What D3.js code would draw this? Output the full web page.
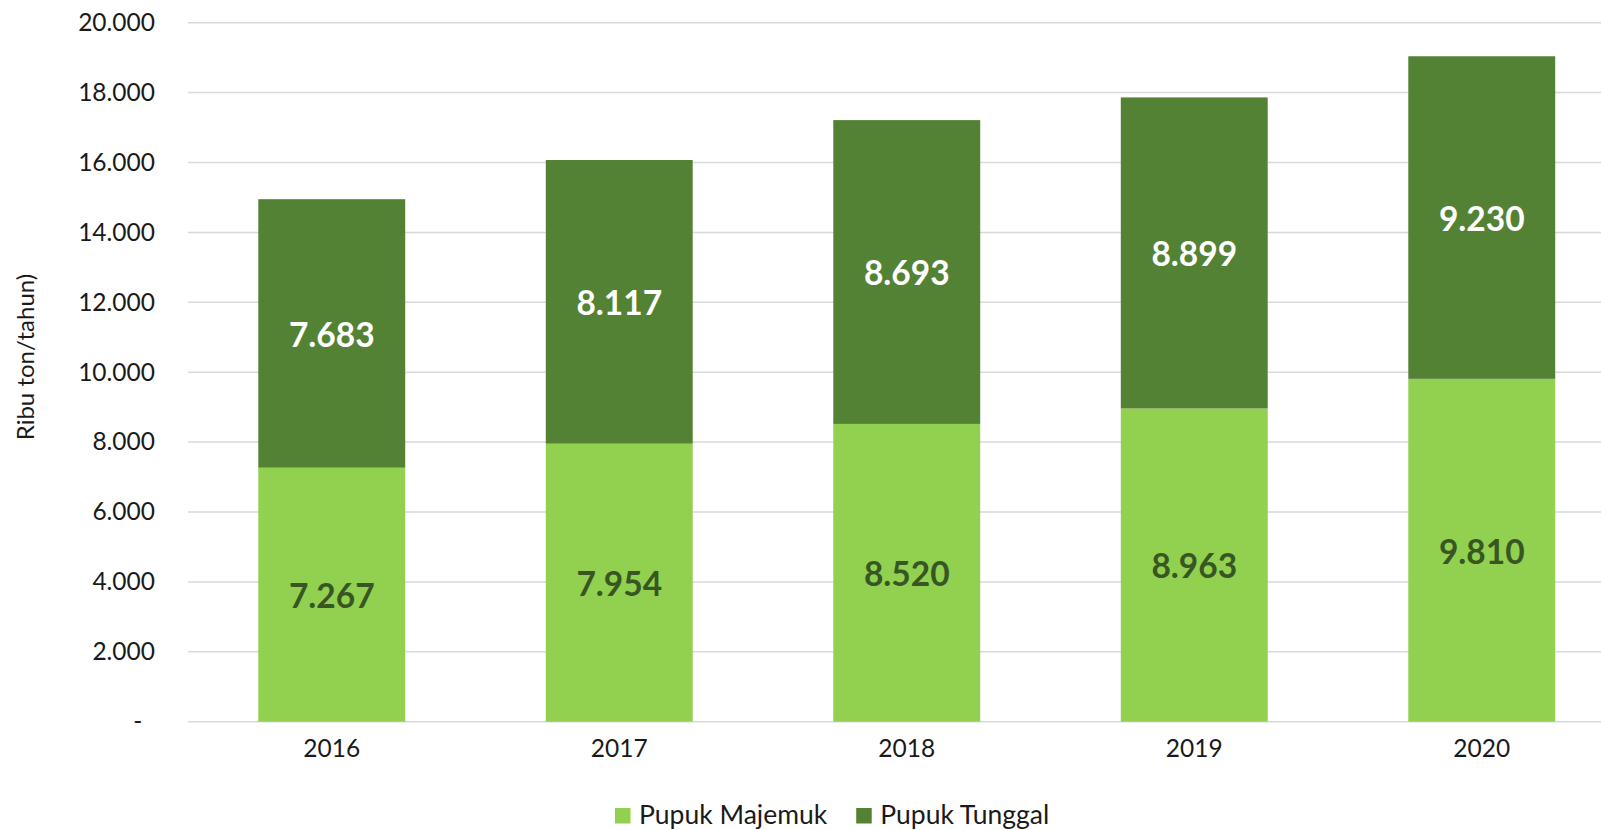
<!DOCTYPE html>
<html>
<head>
<meta charset="utf-8">
<script src="https://cdn.jsdelivr.net/npm/d3@7"></script>
<style>
  body { margin: 0; background: #fff; }
  text { font-family: Lato, "Open Sans", sans-serif; }
</style>
</head>
<body>
<div id="chart"></div>
<script>
// data
const years = ["2016", "2017", "2018", "2019", "2020"];
const majemuk = [7267, 7954, 8520, 8963, 9810];
const tunggal = [7683, 8117, 8693, 8899, 9230];
const seriesNames = ["Pupuk Majemuk", "Pupuk Tunggal"];
const yTicks = [0, 2000, 4000, 6000, 8000, 10000, 12000, 14000, 16000, 18000, 20000];

const width = 1601;
const height = 830;
const colors = ["#92D050", "#548235"];
const labelColors = ["#375623", "#ffffff"];

const svg = d3.select("#chart")
  .append("svg")
    .attr("width", width)
    .attr("height", height);

// plot area runs past the right edge, like the reference crop
const x = d3.scaleBand()
  .domain(years)
  .range([188, 1625.5])
  .paddingInner(0.489)
  .paddingOuter(0.2445);

const y = d3.scaleLinear()
  .domain([0, 20000])
  .range([721.7, 22.7]);

const fmt = v => v === 0 ? "-\u00A0\u00A0" : d3.format(",")(v).replace(/,/g, ".");

// gridlines
svg.append("g")
  .selectAll("line")
  .data(yTicks)
  .join("line")
    .attr("x1", 188)
    .attr("x2", 1625.5)
    .attr("y1", d => y(d))
    .attr("y2", d => y(d))
    .attr("stroke", "#D9D9D9")
    .attr("stroke-width", 1.5);

// y axis labels
const yAxis = svg.append("g")
  .attr("transform", "translate(155,0)")
  .call(d3.axisLeft(y).tickValues(yTicks).tickFormat(fmt).tickSize(0).tickPadding(0));
yAxis.select(".domain").remove();
yAxis.selectAll("text")
  .attr("font-size", 24.5)
  .attr("fill", "#1a1a1a")
  .style("white-space", "pre")
  .style("font-family", "Lato, 'Open Sans', sans-serif");

// x axis labels
const xAxis = svg.append("g")
  .attr("transform", "translate(0,740)")
  .call(d3.axisBottom(x).tickSize(0).tickPadding(0));
xAxis.select(".domain").remove();
xAxis.selectAll("text")
  .attr("font-size", 24.5)
  .attr("fill", "#1a1a1a")
  .style("font-family", "Lato, 'Open Sans', sans-serif");

// stack the two series
const rows = years.map((yr, i) => ({ year: yr, majemuk: majemuk[i], tunggal: tunggal[i] }));
const stack = d3.stack().keys(["majemuk", "tunggal"])(rows);

const layer = svg.append("g")
  .selectAll("g")
  .data(stack)
  .join("g")
    .attr("fill", (d, i) => colors[i]);

layer.selectAll("rect")
  .data(d => d)
  .join("rect")
    .attr("x", d => x(d.data.year))
    .attr("width", x.bandwidth())
    .attr("y", d => y(d[1]))
    .attr("height", d => y(d[0]) - y(d[1]));

// value labels in the middle of each segment
stack.forEach((s, i) => {
  svg.append("g")
    .selectAll("text")
    .data(s)
    .join("text")
      .attr("x", d => x(d.data.year) + x.bandwidth() / 2)
      .attr("y", d => (y(d[0]) + y(d[1])) / 2)
      .attr("dy", "0.4em")
      .attr("text-anchor", "middle")
      .attr("font-size", 33.5)
      .attr("font-weight", "bold")
      .attr("fill", labelColors[i])
      .text(d => fmt(d[1] - d[0]));
});

// y axis title
svg.append("text")
  .attr("transform", "translate(34,357) rotate(-90)")
  .attr("text-anchor", "middle")
  .attr("font-size", 24)
  .attr("fill", "#1a1a1a")
  .text("Ribu ton/tahun)");

// legend
const legend = svg.append("g");
let lx = 615;
seriesNames.forEach((name, i) => {
  legend.append("rect")
    .attr("x", lx)
    .attr("y", 808)
    .attr("width", 15.5)
    .attr("height", 15.5)
    .attr("fill", colors[i]);
  const t = legend.append("text")
    .attr("x", lx + 24)
    .attr("y", 824)
    .attr("font-size", 26.5)
    .attr("fill", "#1a1a1a")
    .text(name);
  lx += 24 + t.node().getComputedTextLength() + 29;
});
</script>
</body>
</html>
